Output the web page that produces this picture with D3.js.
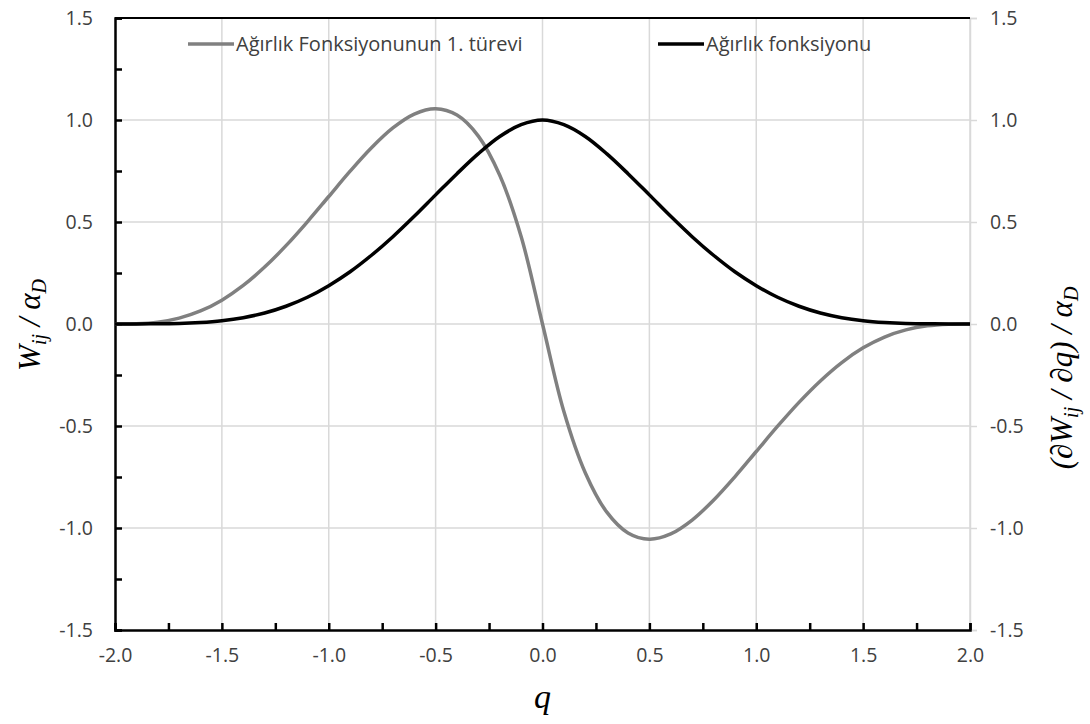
<!DOCTYPE html>
<html>
<head>
<meta charset="utf-8">
<script src="https://cdn.jsdelivr.net/npm/d3@7"></script>
<style>
  body { margin: 0; background: #fff; }
</style>
</head>
<body>
<svg id="chart" width="1090" height="724"></svg>
<script>
// values, q step 0.1
const qValues = [-2.0, -1.9, -1.8, -1.7, -1.6, -1.5, -1.4, -1.3, -1.2, -1.1, -1.0,
                 -0.9, -0.8, -0.7, -0.6, -0.5, -0.4, -0.3, -0.2, -0.1, 0.0,
                 0.1, 0.2, 0.3, 0.4, 0.5, 0.6, 0.7, 0.8, 0.9, 1.0,
                 1.1, 1.2, 1.3, 1.4, 1.5, 1.6, 1.7, 1.8, 1.9, 2.0];
const weightValues = [0.000, 0.000, 0.001, 0.002, 0.007, 0.016, 0.031, 0.054, 0.087, 0.131, 0.188,
                      0.256, 0.337, 0.428, 0.528, 0.633, 0.737, 0.835, 0.919, 0.977, 1.000,
                      0.977, 0.919, 0.835, 0.737, 0.633, 0.528, 0.428, 0.337, 0.256, 0.188,
                      0.131, 0.087, 0.054, 0.031, 0.016, 0.007, 0.002, 0.001, 0.000, 0.000];
const derivValues = [0.000, 0.001, 0.009, 0.029, 0.064, 0.117, 0.189, 0.279, 0.384, 0.501, 0.625,
                     0.749, 0.864, 0.961, 1.029, 1.055, 1.024, 0.921, 0.729, 0.429, 0.000,
                     -0.429, -0.729, -0.921, -1.024, -1.055, -1.029, -0.961, -0.864, -0.749, -0.625,
                     -0.501, -0.384, -0.279, -0.189, -0.117, -0.064, -0.029, -0.009, -0.001, 0.000];
const seriesNames = ["Ağırlık Fonksiyonunun 1. türevi", "Ağırlık fonksiyonu"];
const xTicks = [-2.0, -1.5, -1.0, -0.5, 0.0, 0.5, 1.0, 1.5, 2.0];
const yTicks = [-1.5, -1.0, -0.5, 0.0, 0.5, 1.0, 1.5];

let svg = d3.select("#chart");
let margin = {top: 18, right: 120, bottom: 94, left: 115};
let width = +svg.attr("width") - margin.left - margin.right;
let height = +svg.attr("height") - margin.top - margin.bottom;

let g = svg.append("g").attr("transform", `translate(${margin.left}, ${margin.top})`);

let x = d3.scaleLinear().domain([-2, 2]).range([0, width]);
let y = d3.scaleLinear().domain([-1.5, 1.5]).range([height, 0]);

const GRID = "#d9d9d9";
const LABEL = "#404040";
const SANS = "Open Sans, DejaVu Sans, sans-serif";
const SERIF = "Liberation Serif, Times New Roman, Tinos, DejaVu Serif, serif";
// plain hyphen for negatives, like the reference
let fmt = d => d3.format(".1f")(d).replace("\u2212", "-");
let halfOnly = d => Math.abs(d * 2 - Math.round(d * 2)) < 1e-6 ? fmt(d) : "";

// gridlines
g.append("g")
    .selectAll("line")
    .data(xTicks.slice(1))
    .enter().append("line")
    .attr("x1", d => x(d)).attr("x2", d => x(d))
    .attr("y1", 0).attr("y2", height)
    .attr("stroke", GRID).attr("stroke-width", 1.5);
g.append("g")
    .selectAll("line")
    .data(yTicks.slice(1, -1))
    .enter().append("line")
    .attr("x1", 0).attr("x2", width)
    .attr("y1", d => y(d)).attr("y2", d => y(d))
    .attr("stroke", GRID).attr("stroke-width", 1.5);

// right axis: grey line, small outward ticks, labels
let right = g.append("g").attr("transform", `translate(${width}, 0)`)
    .call(d3.axisRight(y).tickValues(yTicks).tickFormat(fmt).tickSize(7).tickPadding(13));
right.attr("font-family", SANS).attr("font-size", 19.5);
right.select(".domain").attr("stroke", GRID).attr("stroke-width", 1.5);
right.selectAll(".tick line").attr("stroke", GRID).attr("stroke-width", 1.5);
right.selectAll("text").attr("fill", LABEL);

// left axis: black, inward ticks every 0.25
let left = g.append("g")
    .call(d3.axisLeft(y).tickValues(d3.range(-1.5, 1.51, 0.25)).tickSize(-7).tickPadding(22)
        .tickFormat(halfOnly));
left.attr("font-family", SANS).attr("font-size", 19.5);
left.select(".domain").attr("stroke", "#000").attr("stroke-width", 2.5);
left.selectAll(".tick line").attr("stroke", "#000").attr("stroke-width", 2.5);
left.selectAll("text").attr("fill", LABEL);

// bottom axis: black, inward ticks every 0.25
let bottom = g.append("g").attr("transform", `translate(0, ${height})`)
    .call(d3.axisBottom(x).tickValues(d3.range(-2, 2.01, 0.25)).tickSize(-7).tickPadding(18)
        .tickFormat(halfOnly));
bottom.attr("font-family", SANS).attr("font-size", 19.5);
bottom.select(".domain").attr("stroke", "#000").attr("stroke-width", 2.5);
bottom.selectAll(".tick line").attr("stroke", "#000").attr("stroke-width", 2.5);
bottom.selectAll("text").attr("fill", LABEL);

// top border
g.append("line")
    .attr("x1", 0).attr("x2", width).attr("y1", 0).attr("y2", 0)
    .attr("stroke", "#000").attr("stroke-width", 2);

// curves
let line = d3.line().x(d => x(d[0])).y(d => y(d[1])).curve(d3.curveCatmullRom);
g.append("path")
    .datum(qValues.map((q, i) => [q, derivValues[i]]))
    .attr("d", line)
    .attr("fill", "none").attr("stroke", "#808080").attr("stroke-width", 3.5);
g.append("path")
    .datum(qValues.map((q, i) => [q, weightValues[i]]))
    .attr("d", line)
    .attr("fill", "none").attr("stroke", "#000").attr("stroke-width", 3.5);

// legend
let legendItems = [
    {name: seriesNames[0], color: "#808080", x: 188},
    {name: seriesNames[1], color: "#000", x: 658}
];
let legend = svg.append("g").selectAll("g")
    .data(legendItems)
    .enter().append("g")
    .attr("transform", d => `translate(${d.x}, 44)`);
legend.append("line")
    .attr("x1", 0).attr("x2", 46).attr("y1", 0).attr("y2", 0)
    .attr("stroke", d => d.color).attr("stroke-width", 3.5);
legend.append("text")
    .attr("font-family", SANS)
    .attr("x", 48).attr("dy", "0.35em")
    .attr("font-size", 20).attr("fill", LABEL)
    .text(d => d.name);

// axis titles (serif italic)
let leftTitle = svg.append("text")
    .attr("font-family", SERIF).attr("font-style", "italic")
    .attr("transform", `translate(40, 325) rotate(-90)`)
    .attr("text-anchor", "middle")
    .attr("font-size", 31).attr("fill", "#000");
leftTitle.append("tspan").text("W");
leftTitle.append("tspan").attr("font-size", 20).attr("dy", 6).text("ij");
leftTitle.append("tspan").attr("dy", -6).text(" / α");
leftTitle.append("tspan").attr("font-size", 20).attr("dy", 6).text("D");

let rightTitle = svg.append("text")
    .attr("font-family", SERIF).attr("font-style", "italic")
    .attr("transform", `translate(1072, 378) rotate(-90)`)
    .attr("text-anchor", "middle")
    .attr("font-size", 31).attr("fill", "#000");
rightTitle.append("tspan").text("(∂W");
rightTitle.append("tspan").attr("font-size", 20).attr("dy", 6).text("ij");
rightTitle.append("tspan").attr("dy", -6).text(" / ∂q) / α");
rightTitle.append("tspan").attr("font-size", 20).attr("dy", 6).text("D");

svg.append("text")
    .attr("font-family", SERIF).attr("font-style", "italic")
    .attr("x", margin.left + x(0)).attr("y", 708)
    .attr("text-anchor", "middle")
    .attr("font-size", 34).attr("fill", "#000")
    .text("q");
</script>
</body>
</html>
